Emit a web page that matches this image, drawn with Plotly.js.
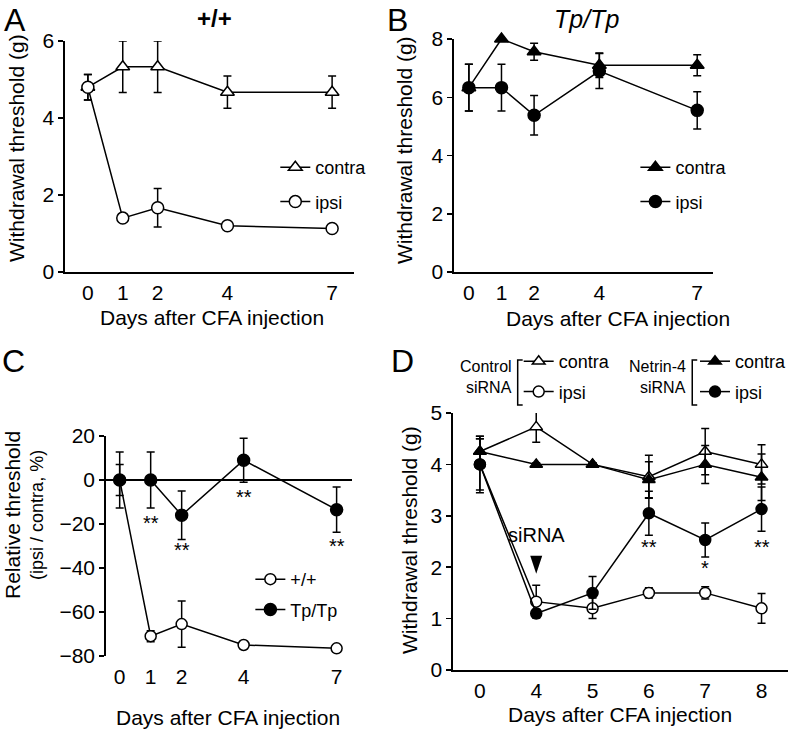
<!DOCTYPE html>
<html>
<head>
<meta charset="utf-8">
<script src="https://cdn.plot.ly/plotly-3.0.1.min.js"></script>
<style>html,body{margin:0;padding:0;background:#fff;}#chart{width:792px;height:730px;}</style>
</head>
<body>
<div id="chart"></div>
<script>
// ---------- DATA ----------
const daysABC = [0, 1, 2, 4, 7];
const dayTicksABC = ['0', '1', '2', '4', '7'];

// Panel A (+/+)
const aContra = [4.8, 5.33, 5.33, 4.67, 4.67];
const aContraErr = [0.33, 0.67, 0.67, 0.42, 0.42];
const aIpsi = [4.8, 1.4, 1.67, 1.2, 1.13];
const aIpsiErr = [0.33, 0.05, 0.5, 0.05, 0.05];

// Panel B (Tp/Tp)
const bContra = [6.33, 8.0, 7.56, 7.1, 7.1];
const bContraErr = [0.8, 0.05, 0.29, 0.42, 0.36];
const bIpsi = [6.33, 6.33, 5.38, 6.9, 5.55];
const bIpsiErr = [0.8, 0.8, 0.68, 0.6, 0.64];

// Panel C (relative threshold, %)
const cWT = [0, -71, -65.5, -75, -76.5];
const cWTErr = [7, 2.5, 10.5, 1, 1];
const cTp = [0, 0, -16, 9, -13.5];
const cTpErr = [12.7, 12.7, 11, 10, 10.3];
const cStarsX = [1, 2, 4, 7];
const cStarsY = [-19.5, -32, -7.5, -30];

// Panel D (siRNA); days are evenly spaced categories
const dDays = ['0', '4', '5', '6', '7', '8'];
const dCtrlContra = [4.25, 4.73, 4.0, 3.76, 4.25, 4.0];
const dCtrlContraErr = [0.3, 0.3, 0.03, 0.42, 0.45, 0.38];
const dCtrlIpsi = [4.0, 1.33, 1.2, 1.5, 1.5, 1.2];
const dCtrlIpsiErr = [0.5, 0.32, 0.2, 0.1, 0.12, 0.29];
const dNetContra = [4.25, 4.0, 4.0, 3.7, 4.0, 3.75];
const dNetContraErr = [0.25, 0.03, 0.03, 0.35, 0.37, 0.45];
const dNetIpsi = [4.0, 1.1, 1.5, 3.05, 2.53, 3.13];
const dNetIpsiErr = [0.55, 0.08, 0.32, 0.43, 0.33, 0.43];
const dStarsDay = ['6', '7', '8'];
const dStarsY = [2.4, 1.98, 2.4];
const dStarsText = ['**', '*', '**'];
const siRNADay = '4';

// ---------- HELPERS ----------
const FONT = 'Liberation Sans, Arial, sans-serif';
const W = 792, H = 730;
const px = v => v / W;
const py = v => 1 - v / H;
const dIdx = d => dDays.indexOf(d);
const dX = dDays.map((d, i) => i);

function series(x, y, err, xa, ya, name, symbol, filled, legend, size) {
  return {
    type: 'scatter', mode: 'lines+markers', x: x, y: y, name: name,
    xaxis: xa, yaxis: ya, legend: legend, legendgroup: legend + name,
    cliponaxis: false,
    line: {color: '#000', width: 1.5},
    marker: {symbol: symbol, size: size || 12, color: filled ? '#000' : '#fff',
             line: {color: '#000', width: 1.5}},
    error_y: {type: 'data', array: err, visible: true, color: '#000', thickness: 1.5, width: 4}
  };
}

const traces = [
  series(daysABC, aContra, aContraErr, 'x', 'y', 'contra', 'triangle-up', false, 'legend'),
  series(daysABC, aIpsi, aIpsiErr, 'x', 'y', 'ipsi', 'circle', false, 'legend'),
  series(daysABC, bContra, bContraErr, 'x2', 'y2', 'contra', 'triangle-up', true, 'legend2'),
  series(daysABC, bIpsi, bIpsiErr, 'x2', 'y2', 'ipsi', 'circle', true, 'legend2'),
  series(daysABC, cWT, cWTErr, 'x3', 'y3', '+/+', 'circle', false, 'legend3', 11),
  series(daysABC, cTp, cTpErr, 'x3', 'y3', 'Tp/Tp', 'circle', true, 'legend3', 12),
  series(dX, dCtrlContra, dCtrlContraErr, 'x4', 'y4', 'contra', 'triangle-up', false, 'legend4', 11),
  series(dX, dCtrlIpsi, dCtrlIpsiErr, 'x4', 'y4', 'ipsi', 'circle', false, 'legend4', 11),
  series(dX, dNetContra, dNetContraErr, 'x4', 'y4', 'contra', 'triangle-up', true, 'legend5', 11),
  series(dX, dNetIpsi, dNetIpsiErr, 'x4', 'y4', 'ipsi', 'circle', true, 'legend5', 11)
];

const tickFont = {family: FONT, size: 21, color: '#000'};
function xax(domain, range, opts) {
  return Object.assign({domain: domain, range: range, showgrid: false, zeroline: false,
    showline: true, linecolor: '#000', linewidth: 1.5, ticks: '', tickfont: tickFont,
    ticklabelstandoff: 1, fixedrange: true}, opts || {});
}
function yax(domain, range, tickvals, opts) {
  return Object.assign({domain: domain, range: range, tickvals: tickvals, showgrid: false,
    zeroline: false, showline: true, linecolor: '#000', linewidth: 1.5, ticks: 'outside',
    ticklen: 5, tickwidth: 1.5, tickcolor: '#000', tickfont: tickFont, fixedrange: true}, opts || {});
}

function legendAt(x, yTop, size, gap) {
  return {x: px(x), y: py(yTop), xanchor: 'left', yanchor: 'top', bgcolor: 'rgba(0,0,0,0)',
    borderwidth: 0, font: {family: FONT, size: size, color: '#000'}, tracegroupgap: gap,
    itemclick: false, itemdoubleclick: false};
}

function txt(x, y, text, size, extra) {
  return Object.assign({xref: 'paper', yref: 'paper', x: px(x), y: py(y), text: text,
    showarrow: false, font: {family: FONT, size: size, color: '#000'},
    xanchor: 'center', yanchor: 'middle'}, extra || {});
}

const annotations = [
  txt(15, 20, 'A', 32), txt(399, 20, 'B', 32), txt(14, 361, 'C', 32), txt(404, 361, 'D', 32),
  txt(215, 19, '<b>+/+</b>', 24),
  txt(588, 19, '<i>Tp/Tp</i>', 25),
  txt(16, 148, 'Withdrawal threshold (g)', 21, {textangle: -90}),
  txt(406, 150, 'Withdrawal threshold (g)', 21, {textangle: -90}),
  txt(12, 515, 'Relative threshold', 21, {textangle: -90}),
  txt(37, 515, '(ipsi / contra, %)', 18, {textangle: -90}),
  txt(410, 540, 'Withdrawal threshold (g)', 21, {textangle: -90}),
  txt(213, 317, 'Days after CFA injection', 21),
  txt(620, 318, 'Days after CFA injection', 21),
  txt(229, 717, 'Days after CFA injection', 21),
  txt(622, 714, 'Days after CFA injection', 21),
  txt(515, 366, 'Control', 16, {xanchor: 'right'}),
  txt(515, 387, 'siRNA', 16, {xanchor: 'right'}),
  txt(690, 366, 'Netrin-4', 16, {xanchor: 'right'}),
  txt(690, 387, 'siRNA', 16, {xanchor: 'right'}),
  {xref: 'x4', yref: 'y4', x: dIdx(siRNADay), y: 2.62, text: 'siRNA', showarrow: false,
   font: {family: FONT, size: 20, color: '#000'}}
];
cStarsX.forEach((x, i) => annotations.push({xref: 'x3', yref: 'y3', x: x, y: cStarsY[i], text: '**',
  showarrow: false, font: {family: FONT, size: 20, color: '#000'}}));
dStarsDay.forEach((d, i) => annotations.push({xref: 'x4', yref: 'y4', x: dIdx(d), y: dStarsY[i],
  text: dStarsText[i], showarrow: false, font: {family: FONT, size: 20, color: '#000'}}));

function bracket(x, y0, y1) {
  return {type: 'path', xref: 'paper', yref: 'paper',
    path: `M ${px(x + 5)} ${py(y0)} L ${px(x)} ${py(y0)} L ${px(x)} ${py(y1)} L ${px(x + 5)} ${py(y1)}`,
    line: {color: '#000', width: 1.5}};
}

const shapes = [
  bracket(519, 360, 405),
  bracket(694, 360, 405),
  {type: 'path', xref: 'x4', yref: 'y4', xsizemode: 'pixel', ysizemode: 'pixel',
   xanchor: dIdx(siRNADay), yanchor: 2.05, path: 'M -6 9 L 6 9 L 0 -9 Z', fillcolor: '#000',
   line: {color: '#000', width: 0}}
];

const layout = {
  width: W, height: H, margin: {l: 0, r: 0, t: 0, b: 0},
  paper_bgcolor: '#fff', plot_bgcolor: 'rgba(0,0,0,0)',
  font: {family: FONT, color: '#000'},
  xaxis: xax([px(65), px(355)], [-0.66, 7.63], {tickvals: daysABC, ticktext: dayTicksABC, anchor: 'y'}),
  yaxis: yax([py(272), py(41)], [0, 6], [0, 2, 4, 6], {anchor: 'x'}),
  xaxis2: xax([px(455), px(715)], [-0.46, 7.49], {tickvals: daysABC, ticktext: dayTicksABC, anchor: 'y2'}),
  yaxis2: yax([py(272), py(39)], [0, 8], [0, 2, 4, 6, 8], {anchor: 'x2'}),
  xaxis3: xax([px(106), px(353)], [-0.45, 7.5], {tickvals: daysABC, ticktext: dayTicksABC, anchor: 'y3',
    showline: false, ticklabelstandoff: 6}),
  yaxis3: yax([py(656), py(436)], [-80, 20], [-80, -60, -40, -20, 0, 20], {anchor: 'x3',
    zeroline: true, zerolinecolor: '#000', zerolinewidth: 1.5}),
  xaxis4: xax([px(454), px(790)], [-0.48, 5.47], {tickvals: dX, ticktext: dDays, anchor: 'y4',
    ticklabelstandoff: 1}),
  yaxis4: yax([py(670), py(413)], [0, 5], [0, 1, 2, 3, 4, 5], {anchor: 'x4'}),
  legend: legendAt(276, 149, 18, 8),
  legend2: legendAt(637, 149, 18, 8),
  legend3: legendAt(251, 561, 18, 4),
  legend4: legendAt(520, 343, 18, 4),
  legend5: legendAt(697, 343, 18, 4),
  showlegend: true,
  annotations: annotations,
  shapes: shapes
};

Plotly.newPlot('chart', traces, layout, {displayModeBar: false, staticPlot: true});
</script>
</body>
</html>
